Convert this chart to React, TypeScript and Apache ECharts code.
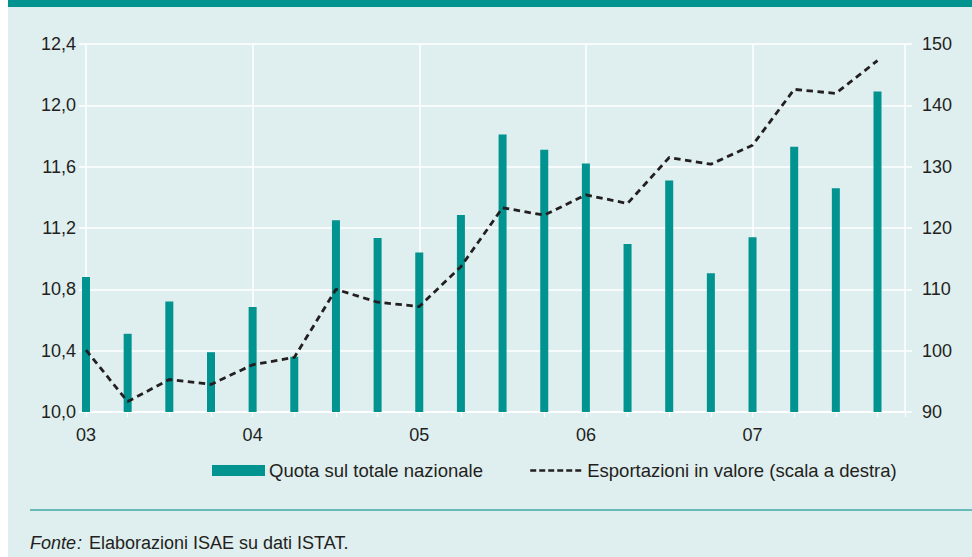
import React, { useEffect, useRef } from "react";
import * as echarts from "echarts";

const yearLabels = ["03", "04", "05", "06", "07"];
const quarterIndex = [0, 1, 2, 3, 4, 5, 6, 7, 8, 9, 10, 11, 12, 13, 14, 15, 16, 17, 18, 19];
const shareValues = [
  10.88, 10.51, 10.72, 10.39, 10.685, 10.36, 11.25, 11.135, 11.04, 11.285,
  11.81, 11.71, 11.62, 11.095, 11.51, 10.905, 11.14, 11.73, 11.46, 12.09,
];
const exportValues = [
  100.1, 91.7, 95.3, 94.5, 97.7, 98.9, 110.0, 107.9, 107.2, 113.7,
  123.3, 122.1, 125.4, 124.0, 131.5, 130.4, 133.5, 142.6, 141.95, 147.3,
];
const seriesNames = ["Quota sul totale nazionale", "Esportazioni in valore (scala a destra)"];
const sourceLabel = "Fonte";
const sourceText = "Elaborazioni ISAE su dati ISTAT.";

const TEAL = "#00938f";
const BG = "#dfeeee";
const TEXT = "#231f20";
const FONT = "Liberation Sans, Arial, sans-serif";

export default function App() {
  const ref = useRef<HTMLDivElement>(null);
  useEffect(() => {
    if (!ref.current) return;
    const chart = echarts.init(ref.current, undefined, { renderer: "svg" });
    const option: any = {
      animation: false,
      backgroundColor: "#ffffff",
      textStyle: { fontFamily: FONT },
      graphic: [
        { type: "rect", z: -10, silent: true, shape: { x: 8, y: 0, width: 964, height: 557 }, style: { fill: BG } },
        { type: "rect", z: -9, silent: true, shape: { x: 8, y: 0, width: 964, height: 7 }, style: { fill: TEAL } },
        { type: "line", silent: true, shape: { x1: 30, y1: 510, x2: 972, y2: 510 }, style: { stroke: "#40a8a5", lineWidth: 1.5 } },
        {
          type: "text", x: 30, y: 543, silent: true,
          style: { text: sourceLabel, font: `italic 18px ${FONT}`, fill: TEXT, verticalAlign: "middle" },
        },
        {
          type: "text", x: 77, y: 543, silent: true,
          style: { text: ":", font: `italic 18px ${FONT}`, fill: TEXT, verticalAlign: "middle" },
        },
        {
          type: "text", x: 89, y: 543, silent: true,
          style: { text: sourceText, font: `18px ${FONT}`, fill: TEXT, verticalAlign: "middle" },
        },
      ],
      legend: {
        left: 207,
        top: 456,
        itemGap: 46,
        itemWidth: 53,
        itemHeight: 11,
        textStyle: { fontSize: 18.5, color: TEXT, fontFamily: FONT, padding: [0, 0, 0, -1] },
        data: [
          { name: seriesNames[0], icon: "rect" },
          {
            name: seriesNames[1],
            itemStyle: { opacity: 0 },
            lineStyle: { color: TEXT, width: 2.6, type: [6, 3] },
          },
        ],
      },
      grid: { left: 86, right: 67, top: 44, bottom: 145 },
      xAxis: {
        type: "value",
        min: 0,
        max: 19.66,
        interval: 4,
        axisLine: { show: true, lineStyle: { color: "#ffffff", width: 2 } },
        axisTick: { show: true, length: 5, lineStyle: { color: "#ffffff", width: 1 } },
        minorTick: { show: true, splitNumber: 4, length: 5, lineStyle: { color: "#ffffff", width: 1 } },
        splitLine: { show: true, lineStyle: { color: "#ffffff", width: 1.5 } },
        axisLabel: {
          margin: 14,
          fontSize: 18,
          color: TEXT,
          fontFamily: FONT,
          showMaxLabel: false,
          formatter: (v: number) => {
            const i = Math.round(v);
            if (Math.abs(v - i) > 1e-6 || i % 4 !== 0) return "";
            return yearLabels[i / 4] ?? "";
          },
        },
      },
      yAxis: [
        {
          type: "value",
          min: 10.0,
          max: 12.4,
          interval: 0.4,
          axisLine: { show: false },
          axisTick: { show: true, length: 7, lineStyle: { color: "#ffffff", width: 1.5 } },
          splitLine: { show: true, lineStyle: { color: "#ffffff", width: 1.5 } },
          axisLabel: {
            margin: 10,
            fontSize: 18,
            color: TEXT,
            fontFamily: FONT,
            formatter: (v: number) => v.toFixed(1).replace(".", ","),
          },
        },
        {
          type: "value",
          min: 90,
          max: 150,
          interval: 10,
          position: "right",
          axisLine: { show: false },
          axisTick: { show: true, length: 7, lineStyle: { color: "#ffffff", width: 1.5 } },
          splitLine: { show: false },
          axisLabel: { margin: 17, fontSize: 18, color: TEXT, fontFamily: FONT },
        },
      ],
      series: [
        {
          name: seriesNames[0],
          type: "bar",
          yAxisIndex: 0,
          barWidth: 8,
          itemStyle: { color: TEAL },
          data: quarterIndex.map((q, i) => [q, shareValues[i]]),
        },
        {
          name: seriesNames[1],
          type: "line",
          yAxisIndex: 1,
          symbol: "none",
          showSymbol: false,
          lineStyle: { color: TEXT, width: 2.8, type: [6.5, 4.5] },
          itemStyle: { color: TEXT },
          z: 5,
          data: quarterIndex.map((q, i) => [q, exportValues[i]]),
        },
      ],
    };
    chart.setOption(option);
    return () => chart.dispose();
  }, []);
  return (
    <div
      ref={ref}
      style={{ position: "absolute", left: 0, top: 0, width: 972, height: 557 }}
    />
  );
}
